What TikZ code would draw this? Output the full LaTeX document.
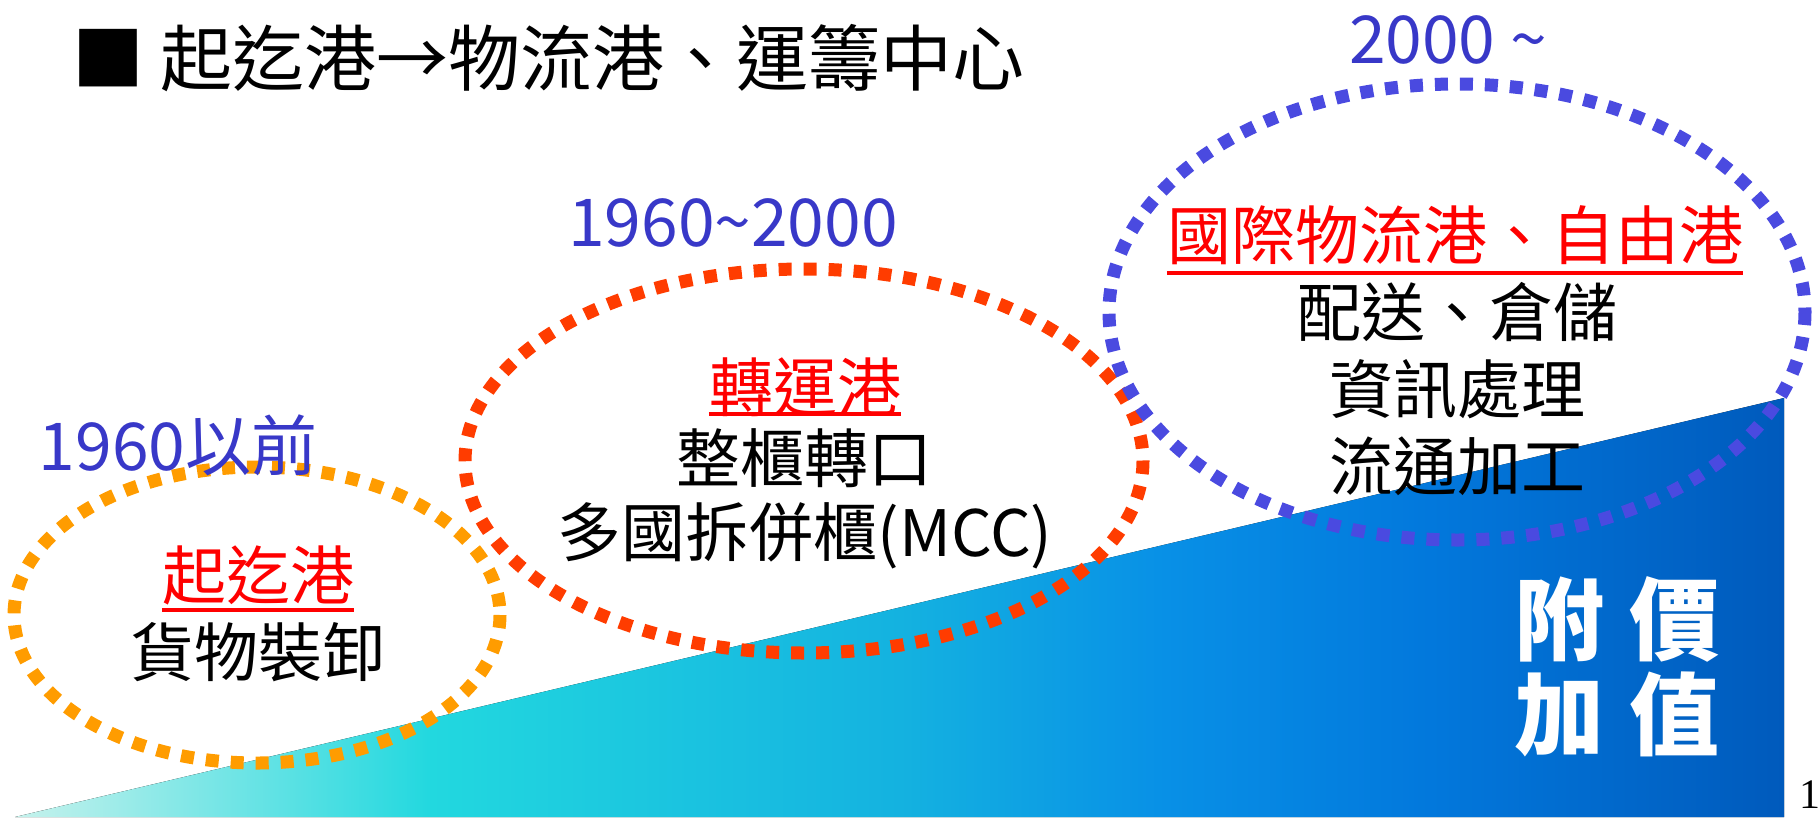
\documentclass[tikz,border=0pt]{standalone}
\usepackage{fontspec}
\setmainfont{Noto Sans CJK TC}
\newfontfamily\pagefont{Liberation Serif}
\definecolor{eracolor}{HTML}{3838C8}
\definecolor{orangedot}{HTML}{FF9C00}
\definecolor{reddot}{HTML}{FF3C00}
\definecolor{bluedot}{HTML}{4A4AE0}
\definecolor{vlight}{HTML}{C6F2EC}
\definecolor{vcyan}{HTML}{22D8DF}
\definecolor{vmid}{HTML}{14B2E0}
\definecolor{vblue}{HTML}{0890E6}
\definecolor{vdeep}{HTML}{0278DC}
\definecolor{vdark}{HTML}{005ABC}
\pgfdeclarehorizontalshading{valueshade}{100bp}{color(0bp)=(vlight); color(25bp)=(vlight);
  color(36.75bp)=(vcyan); color(50bp)=(vmid); color(57.5bp)=(vblue); color(65bp)=(vdeep);
  color(75bp)=(vdark); color(100bp)=(vdark)}
\tikzset{
  dotring/.style={line width=13pt, dash pattern=on 13pt off 12pt},
  era/.style={text=eracolor, inner sep=0pt, font=\fontsize{66}{70}\selectfont},
  portname/.style={text=red, inner sep=0pt, font=\fontsize{64}{70}\selectfont},
  task/.style={inner sep=0pt, font=\fontsize{64}{70}\selectfont},
  underline/.style={red, line width=4pt}
}
\begin{document}
\begin{tikzpicture}[x=1pt,y=-1pt]
  \useasboundingbox (0,0) rectangle (1820,817);

  % added value wedge
  \fill[shading=valueshade] (15,817) -- (1784,398) -- (1784,817) -- cycle;

  % title
  \node[anchor=west, inner sep=0pt, font=\fontsize{72}{80}\selectfont] (title) at (72,58) {■ 起迄港→物流港、運籌中心};

  % three stages
  \draw[orangedot, dotring] (257,615) ellipse [x radius=243, y radius=148];
  \draw[reddot, dotring] (804,461) ellipse [x radius=339, y radius=192];
  \draw[bluedot, dotring] (1457,312) ellipse [x radius=348, y radius=228];

  \node[era] (before) at (178,445) {1960以前};
  \node[era] (middle) at (733,223) {1960\textasciitilde 2000};
  \node[era] (after) at (1448,40) {2000 \textasciitilde};

  \node[portname] (port1) at (258,575) {起迄港};
  \draw[underline] (port1.west |- 0,610) -- (port1.east |- 0,610);
  \node[task] (load) at (258,652) {貨物裝卸};

  \node[portname] (port2) at (805,387) {轉運港};
  \draw[underline] (port2.west |- 0,414) -- (port2.east |- 0,414);
  \node[task] (fcl) at (804,458) {整櫃轉口};
  \node[task] (mcc) at (805,536) {多國拆併櫃(MCC)};

  \node[portname] (port3) at (1455,235) {國際物流港、自由港};
  \draw[underline] (port3.west |- 0,273) -- (port3.east |- 0,273);
  \node[task] (deliver) at (1457,312) {配送、倉儲};
  \node[task] (info) at (1457,389) {資訊處理};
  \node[task] (process) at (1457,466) {流通加工};

  \node[text=white, align=center, inner sep=0pt, font=\fontsize{90}{95}\bfseries] (value) at (1617,667) {附\hspace{0.28em}價\\加\hspace{0.28em}值};

  \node[inner sep=0pt, font=\pagefont\fontsize{42}{44}\selectfont] (page) at (1810,795) {1};
\end{tikzpicture}
\end{document}
